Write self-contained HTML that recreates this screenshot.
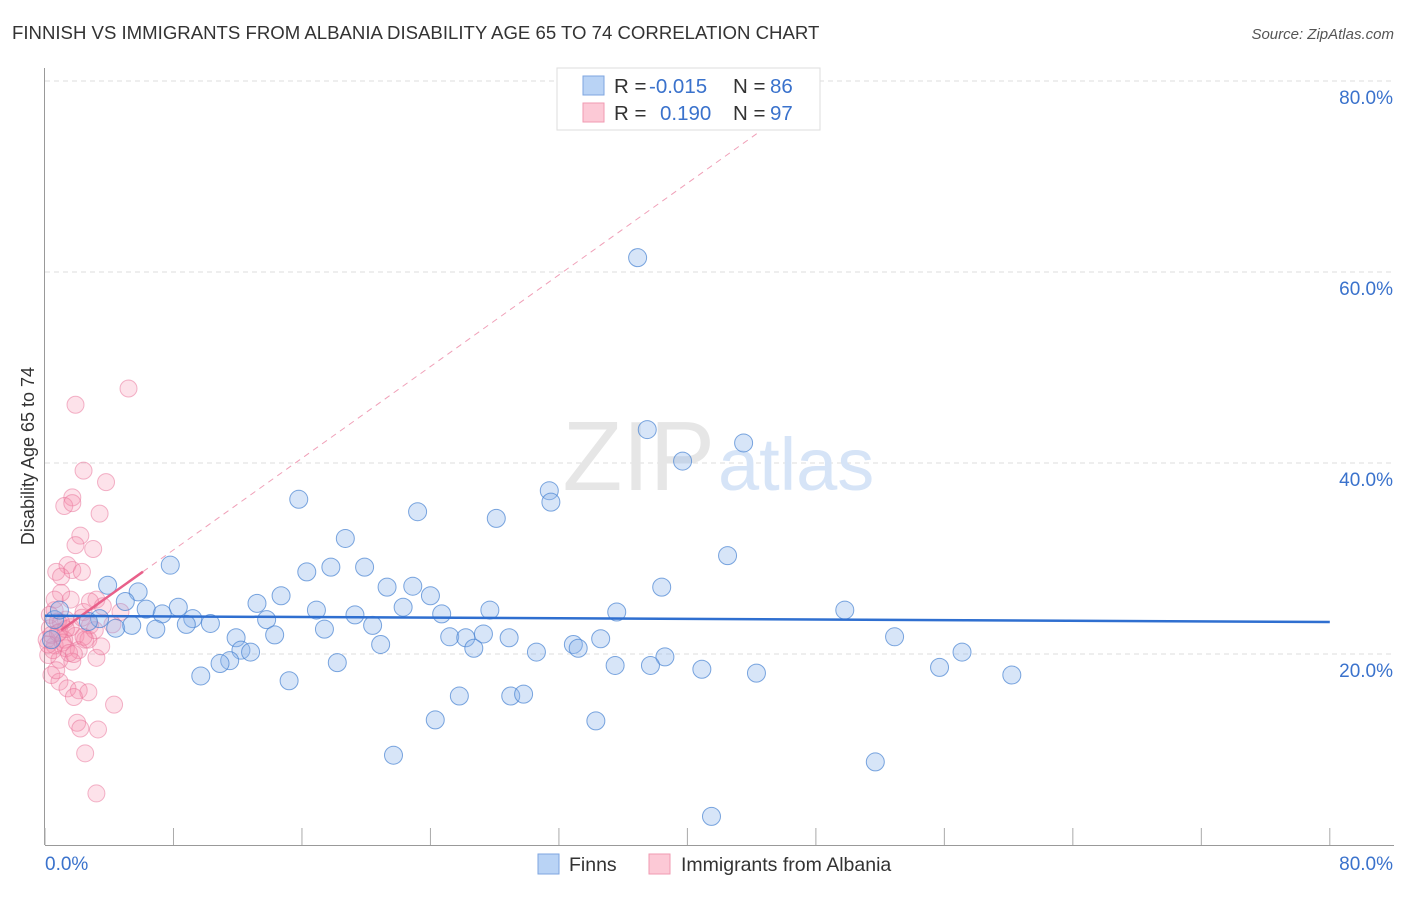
<!DOCTYPE html>
<html><head><meta charset="utf-8"><style>
body{margin:0;background:#fff;font-family:"Liberation Sans",sans-serif;}
svg text{font-family:"Liberation Sans",sans-serif;}
</style></head><body>
<svg id="c" width="1406" height="892">
<text x="12" y="39" font-size="18.6" fill="#333">FINNISH VS IMMIGRANTS FROM ALBANIA DISABILITY AGE 65 TO 74 CORRELATION CHART</text>
<text x="1394" y="39" font-size="15" font-style="italic" fill="#555" text-anchor="end">Source: ZipAtlas.com</text>
<text x="34" y="456" font-size="18" fill="#333" text-anchor="middle" transform="rotate(-90 34 456)">Disability Age 65 to 74</text>
<g id="grid"></g>
<text x="715" y="490" font-size="98" fill="#e6e6e6" font-family="Liberation Serif" text-anchor="end">ZIP</text>
<text x="718" y="490" font-size="74" fill="#d6e4f7">atlas</text>
<g id="pts"></g>
<g id="lines"></g>
<g>
<rect x="557" y="68" width="263" height="62" fill="#fff" stroke="#ddd"/>
<rect x="583" y="76" width="21" height="19" fill="#b9d3f5" stroke="#7ea6e0"/>
<rect x="583" y="103" width="21" height="19" fill="#fcc9d6" stroke="#f09ab2"/>
<text x="614" y="93" font-size="20.5" fill="#333">R =</text>
<text x="649" y="93" font-size="20.5" fill="#3a72cc">-0.015</text>
<text x="733" y="93" font-size="20.5" fill="#333">N =</text>
<text x="770" y="93" font-size="20.5" fill="#3a72cc">86</text>
<text x="614" y="120" font-size="20.5" fill="#333">R =</text>
<text x="660" y="120" font-size="20.5" fill="#3a72cc">0.190</text>
<text x="733" y="120" font-size="20.5" fill="#333">N =</text>
<text x="770" y="120" font-size="20.5" fill="#3a72cc">97</text>
</g>
<g>
<rect x="538" y="854" width="21" height="20" fill="#b9d3f5" stroke="#7ea6e0"/>
<text x="569" y="871" font-size="19.5" fill="#333">Finns</text>
<rect x="649" y="854" width="21" height="20" fill="#fcc9d6" stroke="#f09ab2"/>
<text x="681" y="871" font-size="19.5" fill="#333">Immigrants from Albania</text>
</g>
</svg>
<script>
const yTicks=[20,40,60,80];
const xTickVals=[0,8,16,24,32,40,48,56,64,72,80];
const finnsX=[36.9,37.5,39.7,43.5,31.4,31.5,15.8,23.2,28.1,18.7,42.5,7.8,16.3,17.8,19.9,3.9,5.8,21.3,22.9,24.0,14.7,38.4,5.0,13.2,22.3,6.3,8.3,7.3,16.9,27.7,35.6,49.8,3.4,9.2,8.8,13.8,19.3,24.7,10.3,20.4,4.4,5.4,6.9,17.4,14.3,11.9,25.2,26.2,27.3,28.9,34.6,52.9,20.9,32.9,33.2,26.7,12.2,12.8,30.6,57.1,38.6,11.5,10.9,18.2,35.5,37.7,40.9,55.7,44.3,9.7,15.2,60.2,25.8,29.0,29.8,24.3,34.3,21.7,51.7,41.5,0.6,0.4,0.9,2.7];
const finnsY=[61.5,43.5,40.2,42.1,37.1,35.9,36.2,34.9,34.2,32.1,30.3,29.3,28.6,29.1,29.1,27.2,26.5,27.0,27.1,26.1,26.1,27.0,25.5,25.3,24.9,24.7,24.9,24.2,24.6,24.6,24.4,24.6,23.7,23.7,23.1,23.6,24.1,24.2,23.2,23.0,22.7,23.0,22.6,22.6,22.0,21.7,21.8,21.7,22.1,21.7,21.6,21.8,21.0,21.0,20.6,20.6,20.4,20.2,20.2,20.2,19.7,19.3,19.0,19.1,18.8,18.8,18.4,18.6,18.0,17.7,17.2,17.8,15.6,15.6,15.8,13.1,13.0,9.4,8.7,3.0,23.6,21.5,24.6,23.4];
const albX=[5.2,1.9,2.4,3.8,1.7,1.2,1.7,3.4,2.2,1.9,3.0,1.4,1.7,0.7,1.0,2.3,3.2,1.6,1.0,0.6,2.4,3.6,4.7,1.3,2.8,0.3,0.9,1.9,2.5,0.6,1.3,2.1,0.2,0.9,1.7,3.2,2.7,0.4,0.9,1.4,2.1,2.7,0.7,1.2,1.6,0.6,4.3,1.8,2.0,2.2,3.3,2.5,3.2,4.2,3.1,3.5,0.3,0.8,1.3,2.3,0.1,0.5,2.8,0.4,1.1,1.5,0.2,0.8,1.8,2.4,1.0];
const albY=[47.8,46.1,39.2,38.0,36.4,35.5,35.8,34.7,32.4,31.4,31.0,29.3,28.8,28.6,28.1,28.6,25.7,25.7,26.4,24.6,24.4,25.0,24.4,23.6,23.0,22.7,22.3,21.9,21.5,20.9,20.6,20.4,19.9,19.4,19.2,19.6,21.5,17.8,17.1,16.4,16.2,16.0,18.3,21.5,22.8,25.7,14.7,15.5,12.8,12.2,12.1,9.6,5.4,23.1,22.5,20.8,24.1,23.4,22.6,23.8,21.5,20.4,25.5,22.0,21.2,20.1,21.0,22.2,20.0,21.8,23.3];
const finnsTrend=[24.0,23.35];
const albTrend=[21.3,1.2];
const NS='http://www.w3.org/2000/svg';
const X=v=>45+v*16.06, Y=v=>845-v*9.55;
function mk(t,a,p){const e=document.createElementNS(NS,t);for(const k in a)e.setAttribute(k,a[k]);p.appendChild(e);return e;}
const grid=document.getElementById('grid'),pts=document.getElementById('pts'),lines=document.getElementById('lines');
yTicks.forEach(v=>{
 const l=mk('line',{x1:45,x2:1394,y1:Y(v),y2:Y(v),stroke:'#ddd','stroke-dasharray':'5,4'},grid);
 
 
 const t=mk('text',{x:1393,y:Y(v)+23,'font-size':19,fill:'#3a72cc','text-anchor':'end'},grid);t.textContent=v.toFixed(1)+'%';
 
 
});
const ax=mk('line',{x1:44.5,x2:44.5,y1:68,y2:845,stroke:'#999'},grid);


const xa=mk('line',{x1:45,x2:1394,y1:845.5,y2:845.5,stroke:'#999'},grid);


xTickVals.forEach(v=>{const l=mk('line',{x1:X(v),x2:X(v),y1:828,y2:845,stroke:'#aaa'},grid);
 
 });
[[0,'start',45],[80,'end',1393]].forEach(([v,a,x])=>{const t=mk('text',{x:x,y:870,'font-size':19,fill:'#3a72cc','text-anchor':a},grid);t.textContent=v.toFixed(1)+'%';
 
 });
albX.forEach((x,i)=>{const c=mk('circle',{cx:X(x),cy:Y(albY[i]),r:8.5,fill:'rgba(246,140,170,0.25)',stroke:'rgba(232,110,150,0.5)'},pts);
 
 });
finnsX.forEach((x,i)=>{const c=mk('circle',{cx:X(x),cy:Y(finnsY[i]),r:9,fill:'rgba(140,180,235,0.35)',stroke:'rgba(70,130,210,0.7)'},pts);
 
 });
const d=mk('line',{x1:X(6.1),y1:Y(albTrend[0]+albTrend[1]*6.1),x2:X(44.5),y2:Y(albTrend[0]+albTrend[1]*44.5),stroke:'#f0a0b8','stroke-dasharray':'6,5'},lines);


const s=mk('line',{x1:X(1),y1:Y(albTrend[0]+albTrend[1]*1),x2:X(6.1),y2:Y(albTrend[0]+albTrend[1]*6.1),stroke:'#e8608a','stroke-width':2.5},lines);


const b=mk('line',{x1:X(0),y1:Y(finnsTrend[0]),x2:X(80),y2:Y(finnsTrend[1]),stroke:'#2f6fd0','stroke-width':2.5},lines);


</script>
</body></html>
